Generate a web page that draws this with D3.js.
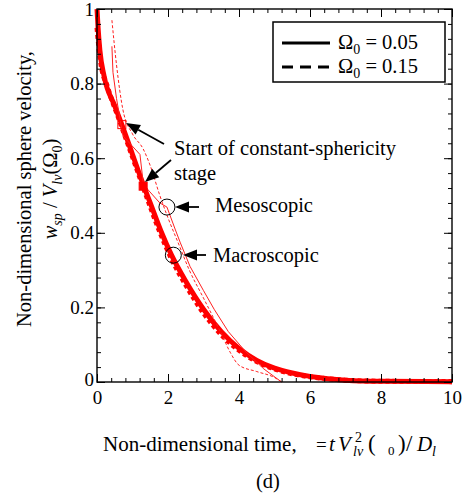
<!DOCTYPE html>
<html>
<head>
<meta charset="utf-8">
<script src="https://cdn.jsdelivr.net/npm/d3@7"></script>
<style>
  body { margin: 0; background: #fff; }
  text { font-family: "Liberation Serif", "Times New Roman", serif; fill: #000; }
</style>
</head>
<body>
<div id="chart-area"></div>
<script>
const width = 466;
const height = 497;

// macroscopic, Omega0 = 0.05 (thick solid)
const macro05T = [0, 0.03, 0.08, 0.2, 0.5, 0.7, 1.0, 1.3, 1.5, 1.8, 2.1, 2.5, 3.0, 3.5, 4.0, 4.5, 5.0, 5.5, 6.0, 6.5, 7.0, 8.0, 10];
const macro05V = [1.0, 0.95, 0.89, 0.82, 0.74, 0.69, 0.61, 0.53, 0.48, 0.405, 0.34, 0.27, 0.195, 0.135, 0.09, 0.058, 0.037, 0.024, 0.015, 0.009, 0.005, 0.002, 0.001];
// macroscopic, Omega0 = 0.15 (thick dashed)
const macro15T = [0, 0.05, 0.1, 0.3, 0.6, 0.9, 1.2, 1.5, 1.8, 2.1, 2.5, 3.0, 3.5, 4.0, 4.5, 5.0, 5.5, 6.0, 7.0, 8.0, 10];
const macro15V = [0.95, 0.9, 0.86, 0.79, 0.71, 0.63, 0.55, 0.47, 0.395, 0.33, 0.26, 0.185, 0.127, 0.085, 0.055, 0.035, 0.022, 0.014, 0.005, 0.002, 0.001];
// mesoscopic, Omega0 = 0.05 (thin solid)
const meso05T = [0.42, 0.45, 0.55, 0.73, 1.21, 1.3, 1.44, 1.77, 1.97, 2.2, 2.34, 2.62, 3.0, 3.3, 3.7, 4.2, 4.7, 5.2];
const meso05V = [0.90, 0.83, 0.76, 0.66, 0.61, 0.535, 0.515, 0.48, 0.469, 0.41, 0.375, 0.31, 0.245, 0.195, 0.135, 0.08, 0.035, 0.0];
// mesoscopic, Omega0 = 0.15 (thin dashed)
const meso15T = [0.42, 0.55, 0.73, 1.0, 1.3, 1.5, 1.77, 2.0, 2.3, 2.6, 3.0, 3.5, 3.75, 4.0, 4.5, 5.0, 5.2];
const meso15V = [0.97, 0.85, 0.73, 0.665, 0.625, 0.58, 0.50, 0.44, 0.37, 0.30, 0.225, 0.13, 0.08, 0.045, 0.028, 0.012, 0.0];

const xTicks = [0, 2, 4, 6, 8, 10];
const yTicks = [0, 0.2, 0.4, 0.6, 0.8, 1];
const yTickLabels = ["0", "0.2", "0.4", "0.6", "0.8", "1"];

// markers: start of constant-sphericity stage, mesoscopic / macroscopic points
const squaresT = [0.7, 1.3];
const squaresV = [0.69, 0.525];
const squaresFilled = [false, true];
const circlesT = [1.97, 2.15];
const circlesV = [0.469, 0.34];

const svg = d3.select("#chart-area")
    .append("svg")
    .attr("width", width)
    .attr("height", height);

const x = d3.scaleLinear().domain([0, 10]).range([97, 452]);
const y = d3.scaleLinear().domain([0, 1]).range([382, 9]);

const minorX = d3.range(0, 10.01, 0.4);
const minorY = d3.range(0, 1.001, 0.04);

// curves
const smooth = d3.line().x(d => x(d[0])).y(d => y(d[1])).curve(d3.curveMonotoneX);
const straight = d3.line().x(d => x(d[0])).y(d => y(d[1]));

const zip = (a, b) => a.map((t, i) => [t, b[i]]);

svg.append("path").attr("d", smooth(zip(macro05T, macro05V)))
    .attr("fill", "none").attr("stroke", "#ff0000").attr("stroke-width", 5);
svg.append("path").attr("d", smooth(zip(macro15T, macro15V)))
    .attr("fill", "none").attr("stroke", "#ff0000").attr("stroke-width", 5)
    .attr("stroke-dasharray", "4,3");
svg.append("path").attr("d", straight(zip(meso05T, meso05V)))
    .attr("fill", "none").attr("stroke", "#ff2020").attr("stroke-width", 1);
svg.append("path").attr("d", smooth(zip(meso15T, meso15V)))
    .attr("fill", "none").attr("stroke", "#ff2020").attr("stroke-width", 1)
    .attr("stroke-dasharray", "3,2");

// markers
squaresT.forEach((t, i) => {
    svg.append("rect")
        .attr("x", x(t) - 4).attr("y", y(squaresV[i]) - 4)
        .attr("width", 8).attr("height", 8)
        .attr("fill", squaresFilled[i] ? "#ff0000" : "none")
        .attr("stroke", "#ff0000").attr("stroke-width", 1);
});
circlesT.forEach((t, i) => {
    svg.append("circle")
        .attr("cx", x(t)).attr("cy", y(circlesV[i])).attr("r", 8)
        .attr("fill", "none").attr("stroke", "#000").attr("stroke-width", 1);
});

// axes, ticks pointing inward on all four sides
function styleAxis(g) {
    g.select(".domain").remove();
    g.selectAll("line").attr("stroke", "#000");
    g.selectAll("text").style("font-family", "Liberation Serif").style("font-size", "19px").attr("fill", "#000");
}
svg.append("g").attr("transform", `translate(0,${y(0)})`)
    .call(d3.axisBottom(x).tickValues(minorX).tickSize(-4).tickFormat("")).call(styleAxis);
svg.append("g").attr("transform", `translate(0,${y(0)})`)
    .call(d3.axisBottom(x).tickValues(xTicks).tickSize(-8).tickPadding(9).tickFormat(d3.format("d"))).call(styleAxis);
svg.append("g").attr("transform", `translate(0,${y(1)})`)
    .call(d3.axisTop(x).tickValues(minorX).tickSize(-4).tickFormat("")).call(styleAxis);
svg.append("g").attr("transform", `translate(0,${y(1)})`)
    .call(d3.axisTop(x).tickValues(xTicks).tickSize(-8).tickFormat("")).call(styleAxis);
svg.append("g").attr("transform", `translate(${x(0)},0)`)
    .call(d3.axisLeft(y).tickValues(minorY).tickSize(-4).tickFormat("")).call(styleAxis);
svg.append("g").attr("transform", `translate(${x(0)},0)`)
    .call(d3.axisLeft(y).tickValues(yTicks).tickSize(-8).tickPadding(3).tickFormat((d, i) => yTickLabels[i])).call(styleAxis)
    .selectAll("text").filter(d => d === 0).attr("dy", "0.2em");
svg.append("g").attr("transform", `translate(${x(10)},0)`)
    .call(d3.axisRight(y).tickValues(minorY).tickSize(-4).tickFormat("")).call(styleAxis);
svg.append("g").attr("transform", `translate(${x(10)},0)`)
    .call(d3.axisRight(y).tickValues(yTicks).tickSize(-8).tickFormat("")).call(styleAxis);

svg.append("rect")
    .attr("x", x(0)).attr("y", y(1))
    .attr("width", x(10) - x(0)).attr("height", y(0) - y(1))
    .attr("fill", "none").attr("stroke", "#000").attr("stroke-width", 1.4);

// legend
svg.append("rect").attr("x", 273).attr("y", 22).attr("width", 172).attr("height", 60)
    .attr("fill", "#fff").attr("stroke", "#000").attr("stroke-width", 1.5);
const legendItems = [{ dash: null, label: "0.05", yy: 43 }, { dash: "11,7", label: "0.15", yy: 67 }];
legendItems.forEach(d => {
    svg.append("line").attr("x1", 282).attr("x2", 330).attr("y1", d.yy).attr("y2", d.yy)
        .attr("stroke", "#000").attr("stroke-width", 3)
        .attr("stroke-dasharray", d.dash);
    const t = svg.append("text").attr("x", 338).attr("y", d.yy + 6).style("font-size", "20.5px");
    t.append("tspan").text("Ω");
    t.append("tspan").text("0").style("font-size", "14px").attr("dy", 5);
    t.append("tspan").text(" = " + d.label).attr("dy", -5);
});

// annotations
function arrow(x1, y1, x2, y2) {
    const a = Math.atan2(y2 - y1, x2 - x1);
    const L = 14, W = 5.5;
    const bx = x2 - L * Math.cos(a), by = y2 - L * Math.sin(a);
    svg.append("line").attr("x1", x1).attr("y1", y1).attr("x2", bx).attr("y2", by)
        .attr("stroke", "#000").attr("stroke-width", 1.8);
    svg.append("path")
        .attr("d", `M${x2},${y2}L${bx - W * Math.sin(a)},${by + W * Math.cos(a)}L${bx + W * Math.sin(a)},${by - W * Math.cos(a)}Z`)
        .attr("fill", "#000");
}
arrow(164, 144, 126, 123);
arrow(171, 160, 145, 182);
arrow(199, 207, 175, 207);
arrow(206, 255, 183, 255);

const annFont = "20.5px";
svg.append("text").attr("x", 174).attr("y", 155).style("font-size", annFont).text("Start of constant-sphericity");
svg.append("text").attr("x", 174).attr("y", 180).style("font-size", annFont).text("stage");
svg.append("text").attr("x", 215).attr("y", 212).style("font-size", annFont).text("Mesoscopic");
svg.append("text").attr("x", 213).attr("y", 262).style("font-size", annFont).text("Macroscopic");

// y label
const yl = svg.append("g").attr("transform", "translate(0,189) rotate(-90)");
yl.append("text").attr("x", 0).attr("y", 31).attr("text-anchor", "middle").style("font-size", "20.5px")
    .text("Non-dimensional sphere velocity,");
const yl2 = yl.append("text").attr("x", 0).attr("y", 57).attr("text-anchor", "middle").style("font-size", "20.5px");
yl2.append("tspan").text("w").style("font-style", "italic");
yl2.append("tspan").text("sp").style("font-style", "italic").style("font-size", "14px").attr("dy", 5);
yl2.append("tspan").text(" / ").attr("dy", -5);
yl2.append("tspan").text("V").style("font-style", "italic");
yl2.append("tspan").text("lv").style("font-style", "italic").style("font-size", "14px").attr("dy", 5);
yl2.append("tspan").text("(Ω").attr("dy", -5);
yl2.append("tspan").text("0").style("font-size", "14px").attr("dy", 5);
yl2.append("tspan").text(")").attr("dy", -5);

// x label, pieces placed one by one (symbols missing in the original stay blank)
const xlY = 451;
const xlParts = [
    { s: "Non-dimensional time,", x: 103, dy: 0, size: 21 },
    { s: "=", x: 316, dy: 0, size: 19 },
    { s: "t", x: 329, dy: 0, size: 21, it: true },
    { s: "V", x: 338, dy: 0, size: 21, it: true },
    { s: "2", x: 355, dy: -9, size: 14 },
    { s: "lv", x: 353, dy: 5, size: 14, it: true },
    { s: "(", x: 368, dy: 0, size: 23 },
    { s: "0", x: 388, dy: 4, size: 13 },
    { s: ")", x: 398, dy: 0, size: 23 },
    { s: "/", x: 406, dy: 0, size: 23 },
    { s: "D", x: 417, dy: 0, size: 21, it: true },
    { s: "l", x: 432, dy: 5, size: 14, it: true }
];
xlParts.forEach(p => {
    svg.append("text").attr("x", p.x).attr("y", xlY + p.dy)
        .style("font-size", p.size + "px")
        .style("font-style", p.it ? "italic" : "normal")
        .text(p.s);
});

svg.append("text").attr("x", 268).attr("y", 488).attr("text-anchor", "middle").style("font-size", "20.5px").text("(d)");
</script>
</body>
</html>
